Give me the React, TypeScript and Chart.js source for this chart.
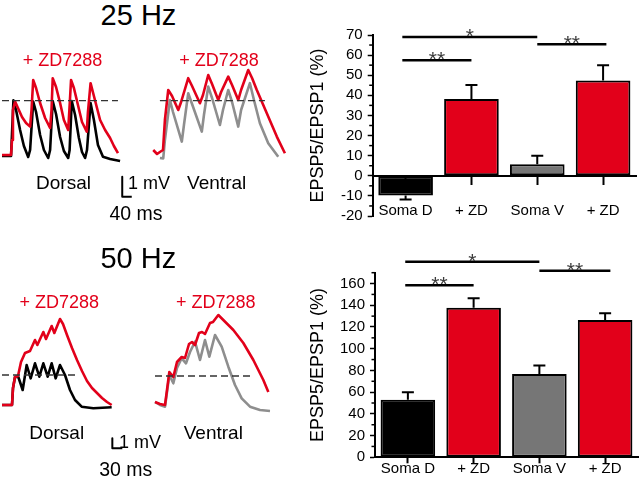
import React, { useEffect, useRef } from "react";
import { Chart, registerables } from "chart.js";

Chart.register(...registerables);

const FONT = "'Liberation Sans', Arial, Helvetica, sans-serif";
const RED = "#e2001a";
const GRAY_BAR = "#767676";
const GRAY_TRACE = "#8e8e8e";

// ---------- Bar chart data ----------
const barCategories = ["Soma D", "+ ZD", "Soma V", "+ ZD"];
const barColors = ["#000000", RED, GRAY_BAR, RED];

const ratio25Hz = [-9.8, 38.2, 5.7, 47.4];
const sem25Hz = [2.0, 7.0, 4.3, 7.6];
const yRange25Hz = [-20, 70];
const yStep25Hz = 10;
const yMinor25Hz = 5;

const ratio50Hz = [53.0, 137.8, 76.8, 126.4];
const sem50Hz = [7.0, 8.6, 7.7, 6.2];
const yRange50Hz = [0, 170];
const yStep50Hz = 20;
const yMinor50Hz = 10;

// significance brackets: from/to category index, level in axis units, label
const sigFrom25Hz = [-0.05, -0.05, 2];
const sigTo25Hz = [2, 1, 3.05];
const sigLevel25Hz = [69, 57.4, 65.4];
const sigText25Hz = ["*", "**", "**"];

const sigFrom50Hz = [-0.04, -0.04, 2];
const sigTo50Hz = [2, 1, 3.08];
const sigLevel50Hz = [180, 158.5, 171.7];
const sigText50Hz = ["*", "**", "**"];

// ---------- Trace data: [time ms, membrane potential mV] ----------
const dorsal25Control: [number, number][] = [
  [0, 0], [38, 0], [48, 2.78], [59, 2.3], [76, 1.3], [92, 0.5], [110, -0.05],
  [118, 0.3], [131, 2.72], [143, 2.2], [160, 1.05], [176, 0.3], [194, -0.1],
  [202, 0.3], [213, 2.75], [227, 2.1], [244, 0.95], [260, 0.25], [278, -0.1],
  [284, 0.3], [293, 2.75], [307, 2.05], [323, 0.9], [336, 0.2], [349, -0.1],
  [357, 0.3], [372, 2.65], [386, 1.8], [403, 0.55], [424, -0.04], [454, -0.15],
  [475, -0.2], [496, -0.25],
];
const dorsal25ZD: [number, number][] = [
  [0, 0.05], [38, 0.05], [42, 0.8], [46, 2.3], [55, 2.72], [67, 2.4], [84, 1.95],
  [101, 1.65], [118, 1.47], [124, 2.3], [131, 3.8], [143, 3.4], [160, 2.65],
  [181, 1.9], [202, 1.4], [208, 2.3], [213, 3.89], [227, 3.45], [244, 2.65],
  [260, 1.8], [278, 1.3], [283, 2.3], [290, 3.8], [302, 3.4], [319, 2.55],
  [336, 1.7], [356, 1.22], [361, 2.2], [372, 3.64], [386, 3.0], [412, 1.8],
  [433, 1.3], [454, 0.9], [470, 0.5], [487, 0.14],
];
const ventral25ZD: [number, number][] = [
  [1, 0.3], [17, 0.1], [29, 0.2], [42, 0.3], [50, 1.8], [64, 3.3], [80, 3.0],
  [106, 2.3], [118, 2.7], [148, 3.89], [164, 3.5], [197, 2.64], [210, 3.05],
  [232, 4.05], [248, 3.6], [274, 2.8], [286, 3.2], [316, 3.97], [332, 3.55],
  [358, 2.8], [370, 3.3], [400, 4.3], [416, 3.9], [436, 3.3], [478, 2.14],
  [520, 0.97], [554, 0.14],
];
const ventral25Control: [number, number][] = [
  [29, -0.1], [43, -0.12], [50, 0.8], [71, 2.8], [84, 2.2], [121, 0.72],
  [130, 1.55], [148, 3.14], [164, 2.6], [205, 1.22], [214, 2.05], [232, 3.47],
  [248, 2.9], [281, 1.55], [294, 2.3], [316, 3.3], [332, 2.7], [358, 1.47],
  [370, 2.3], [407, 3.64], [424, 2.8], [449, 1.64], [484, 0.64], [526, -0.04],
];
const dorsal25Ref: [number, number][] = [[0, 2.77], [487, 2.77]];
const ventral25Ref: [number, number][] = [[29, 2.77], [470, 2.77]];

const dorsal50Control: [number, number][] = [
  [0, 0], [30, 0], [33, 1.7], [39, 2.8], [49, 2.8], [62, 1.5], [74, 4.0],
  [86, 2.67], [99, 4.17], [112, 2.83], [124, 4.17], [137, 2.83], [149, 4.17],
  [161, 2.67], [174, 4.0], [189, 3.0], [204, 1.5], [219, 0.5], [239, -0.17],
  [274, -0.33], [329, -0.23],
];
const dorsal50ZD: [number, number][] = [
  [0, 0], [30, 0], [33, 1.7], [39, 2.8], [48, 2.9], [57, 4.3], [69, 5.2],
  [84, 5.4], [99, 6.5], [106, 6.0], [124, 7.3], [132, 6.6], [149, 7.9],
  [157, 7.2], [174, 8.6], [183, 8.1], [195, 7.0], [210, 5.7], [225, 4.5],
  [240, 3.4], [255, 2.4], [270, 1.7], [285, 1.2], [300, 0.7], [315, 0.3],
  [329, 0],
];
const ventral50ZD: [number, number][] = [
  [0, 0.3], [15, 0.1], [30, 0], [36, 1.5], [43, 3.3], [55, 2.8], [66, 4.3],
  [80, 4.8], [90, 4.7], [102, 6.1], [111, 6.3], [120, 6.0], [132, 7.2],
  [141, 7.3], [150, 7.1], [165, 8.2], [174, 8.3], [190, 9.0], [205, 8.5],
  [235, 7.5], [265, 6.2], [295, 4.5], [325, 2.5], [340, 1.3],
];
const ventral50Control: [number, number][] = [
  [0, 0.3], [15, 0], [30, -0.17], [36, 1.3], [43, 3.0], [55, 2.17], [66, 3.7],
  [80, 4.67], [93, 4.17], [105, 5.3], [120, 6.33], [135, 4.5], [150, 6.5],
  [163, 4.83], [180, 7.0], [200, 5.83], [220, 3.83], [240, 2.0], [260, 0.67],
  [285, -0.17], [315, -0.5], [345, -0.6],
];
const dorsal50Ref: [number, number][] = [[0, 3.0], [219, 3.0]];
const ventral50Ref: [number, number][] = [[0, 2.9], [285, 2.9]];

// scale bars: corner (ms, mV) and lengths
const scaleBar25 = { t: 505, v: -2.04, ms: 40, mV: 1 };
const scaleBar50 = { t: 331, v: -4.33, ms: 30, mV: 1 };

// ---------- Bar chart ----------
const barExtras = {
  id: "barExtras",
  afterDraw(chart: any, _args: any, opts: any) {
    const ctx = chart.ctx;
    const xs = chart.scales.x;
    const ys = chart.scales.y;
    const meta = chart.getDatasetMeta(0);
    ctx.save();
    // minor ticks
    ctx.strokeStyle = "#000";
    ctx.lineWidth = 1.5;
    const axX = chart.chartArea.left;
    for (let v = opts.min; v <= opts.max + 1e-6; v += opts.minor) {
      if (Math.abs(v / opts.step - Math.round(v / opts.step)) < 1e-6) continue;
      const y = ys.getPixelForValue(v);
      ctx.beginPath();
      ctx.moveTo(axX - 3.5, y);
      ctx.lineTo(axX, y);
      ctx.stroke();
    }
    // error bars
    ctx.lineWidth = 2;
    opts.errors.forEach((e: number, i: number) => {
      const v = opts.values[i];
      const bar = meta.data[i];
      const sign = v < 0 ? -1 : 1;
      const yEnd = ys.getPixelForValue(v + sign * e);
      ctx.beginPath();
      ctx.moveTo(bar.x, bar.y);
      ctx.lineTo(bar.x, yEnd);
      ctx.moveTo(bar.x - 6, yEnd);
      ctx.lineTo(bar.x + 6, yEnd);
      ctx.stroke();
    });
    // significance brackets
    ctx.lineWidth = 2.5;
    ctx.font = `21px ${FONT}`;
    ctx.textAlign = "center";
    ctx.textBaseline = "alphabetic";
    opts.sigFrom.forEach((f: number, i: number) => {
      const x1 = xs.getPixelForValue(f);
      const x2 = xs.getPixelForValue(opts.sigTo[i]);
      const y = ys.getPixelForValue(opts.sigLevel[i]);
      ctx.strokeStyle = "#000";
      ctx.beginPath();
      ctx.moveTo(x1, y);
      ctx.lineTo(x2, y);
      ctx.stroke();
      ctx.fillStyle = "#3a3a3a";
      ctx.fillText(opts.sigText[i], (x1 + x2) / 2, y + 6);
    });
    ctx.restore();
  },
};

function BarChart(props: any) {
  const ref = useRef<HTMLCanvasElement>(null);
  useEffect(() => {
    const p = props;
    const chart = new Chart(ref.current!, {
      type: "bar",
      data: {
        labels: barCategories,
        datasets: [
          {
            data: p.values,
            backgroundColor: barColors,
            borderColor: "#000",
            borderWidth: 2,
            borderSkipped: false,
            barPercentage: 0.83,
            categoryPercentage: 1,
          },
        ],
      },
      options: {
        responsive: false,
        animation: false,
        layout: { padding: p.padding },
        plugins: {
          legend: { display: false },
          tooltip: { enabled: false },
          barExtras: {
            values: p.values,
            errors: p.errors,
            min: p.range[0],
            max: p.range[1],
            step: p.step,
            minor: p.minor,
            sigFrom: p.sigFrom,
            sigTo: p.sigTo,
            sigLevel: p.sigLevel,
            sigText: p.sigText,
          },
        } as any,
        scales: {
          x: {
            type: "category",
            position: p.xAtZero ? { y: 0 } : "bottom",
            offset: true,
            grid: {
              drawOnChartArea: false,
              offset: false,
              tickLength: p.xTickLength,
              tickColor: "#000",
              tickWidth: 2,
            },
            border: { display: true, color: "#000", width: 2 },
            ticks: {
              color: "#000",
              font: { family: FONT, size: 15 },
              padding: p.xLabelPad,
              maxRotation: 0,
              autoSkip: false,
            },
            afterFit: (s: any) => {
              if (!p.xAtZero) s.height = p.xHeight;
            },
          } as any,
          y: {
            min: p.range[0],
            max: p.range[1],
            grid: {
              drawOnChartArea: false,
              tickLength: 5,
              tickColor: "#000",
              tickWidth: 1.5,
            },
            border: { display: true, color: "#000", width: 2 },
            ticks: {
              stepSize: p.step,
              autoSkip: false,
              color: "#000",
              font: { family: FONT, size: 15 },
              padding: 5,
            },
            afterBuildTicks: (s: any) => {
              const list: { value: number }[] = [];
              for (let v = p.range[0]; v <= p.range[1] + 1e-6; v += p.step) list.push({ value: v });
              s.ticks = list;
            },
            title: {
              display: true,
              text: "EPSP5/EPSP1 (%)",
              color: "#000",
              font: { family: FONT, size: 18 },
              padding: { top: 7, bottom: 0 },
            },
            afterFit: (s: any) => {
              s.width = p.yWidth;
            },
          },
        },
      },
      plugins: [barExtras],
    });
    return () => chart.destroy();
  }, []);
  return (
    <canvas
      ref={ref}
      width={props.w}
      height={props.h}
      style={{ position: "absolute", left: props.left, top: props.top, width: props.w, height: props.h }}
    />
  );
}

// ---------- Trace chart ----------
type Trace = { data: [number, number][]; color: string; width: number; dash?: number[] };

function TraceChart(props: {
  left: number; top: number; w: number; h: number;
  xr: [number, number]; yr: [number, number]; traces: Trace[];
}) {
  const ref = useRef<HTMLCanvasElement>(null);
  useEffect(() => {
    const chart = new Chart(ref.current!, {
      type: "line",
      data: {
        datasets: props.traces.map((t) => ({
          data: t.data.map(([x, y]) => ({ x, y })),
          borderColor: t.color,
          borderWidth: t.width,
          borderDash: t.dash || [],
          pointRadius: 0,
          tension: 0,
          fill: false,
          borderJoinStyle: "round" as const,
          borderCapStyle: "butt" as const,
          clip: false as any,
        })),
      },
      options: {
        responsive: false,
        animation: false,
        layout: { padding: 0 },
        plugins: { legend: { display: false }, tooltip: { enabled: false } },
        scales: {
          x: { type: "linear", min: props.xr[0], max: props.xr[1], display: false },
          y: { type: "linear", min: props.yr[0], max: props.yr[1], display: false },
        },
      },
    });
    return () => chart.destroy();
  }, []);
  return (
    <canvas
      ref={ref}
      width={props.w}
      height={props.h}
      style={{ position: "absolute", left: props.left, top: props.top, width: props.w, height: props.h }}
    />
  );
}

function scaleBarData(s: { t: number; v: number; ms: number; mV: number }): [number, number][] {
  return [[s.t, s.v + s.mV], [s.t, s.v], [s.t + s.ms, s.v]];
}

function Label(props: { x: number; y: number; size: number; color?: string; children: React.ReactNode }) {
  return (
    <div
      style={{
        position: "absolute",
        left: props.x,
        top: props.y,
        transform: "translate(-50%, -50%)",
        fontFamily: FONT,
        fontSize: props.size,
        lineHeight: 1,
        whiteSpace: "nowrap",
        color: props.color || "#000",
      }}
    >
      {props.children}
    </div>
  );
}

export default function App() {
  const dash = [7, 4];
  return (
    <div style={{ position: "absolute", left: 0, top: 0, width: 640, height: 482, background: "#fff", overflow: "hidden" }}>
      {/* 25 Hz traces */}
      <TraceChart
        left={0} top={60} w={140} h={150} xr={[-8.4, 579.6]} yr={[-2.7, 4.8]}
        traces={[
          { data: dorsal25Ref, color: "#333", width: 1.3, dash },
          { data: dorsal25ZD, color: RED, width: 2.6 },
          { data: dorsal25Control, color: "#000", width: 2.6 },
          { data: scaleBarData(scaleBar25), color: "#000", width: 2 },
        ]}
      />
      <TraceChart
        left={150} top={60} w={140} h={150} xr={[-12.6, 575.4]} yr={[-2.7, 4.8]}
        traces={[
          { data: ventral25Ref, color: "#333", width: 1.3, dash },
          { data: ventral25ZD, color: RED, width: 2.6 },
          { data: ventral25Control, color: GRAY_TRACE, width: 2.6 },
        ]}
      />
      {/* 50 Hz traces */}
      <TraceChart
        left={0} top={300} w={140} h={155} xr={[-6, 414]} yr={[-5, 10.5]}
        traces={[
          { data: dorsal50Ref, color: "#333", width: 1.3, dash },
          { data: dorsal50ZD, color: RED, width: 2.6 },
          { data: dorsal50Control, color: "#000", width: 2.6 },
          { data: scaleBarData(scaleBar50), color: "#000", width: 2 },
        ]}
      />
      <TraceChart
        left={150} top={300} w={140} h={155} xr={[-15, 405]} yr={[-5, 10.5]}
        traces={[
          { data: ventral50Ref, color: "#333", width: 1.3, dash },
          { data: ventral50ZD, color: RED, width: 2.6 },
          { data: ventral50Control, color: GRAY_TRACE, width: 2.6 },
        ]}
      />

      <Label x={138.5} y={14.5} size={29}>25 Hz</Label>
      <Label x={62.5} y={60} size={18} color={RED}>+ ZD7288</Label>
      <Label x={219} y={60} size={18} color={RED}>+ ZD7288</Label>
      <Label x={63.5} y={181.5} size={19}>Dorsal</Label>
      <Label x={216.7} y={181.5} size={19}>Ventral</Label>
      <Label x={149} y={182.5} size={18}>1 mV</Label>
      <Label x={136} y={213.5} size={19.5}>40 ms</Label>

      <Label x={138.3} y={258.3} size={29}>50 Hz</Label>
      <Label x={59.2} y={301.7} size={18} color={RED}>+ ZD7288</Label>
      <Label x={215.8} y={301.7} size={18} color={RED}>+ ZD7288</Label>
      <Label x={56.7} y={431.7} size={19}>Dorsal</Label>
      <Label x={213.3} y={431.7} size={19}>Ventral</Label>
      <Label x={140} y={442} size={18}>1 mV</Label>
      <Label x={125.8} y={469.5} size={19.5}>30 ms</Label>

      <BarChart
        left={300} top={0} w={340} h={230}
        values={ratio25Hz} errors={sem25Hz}
        range={yRange25Hz} step={yStep25Hz} minor={yMinor25Hz}
        sigFrom={sigFrom25Hz} sigTo={sigTo25Hz} sigLevel={sigLevel25Hz} sigText={sigText25Hz}
        padding={{ top: 35, bottom: 10.7, left: 0, right: 4 }}
        yWidth={72.7} xAtZero={true} xTickLength={8} xLabelPad={18} xHeight={0}
      />
      <BarChart
        left={300} top={230} w={340} h={252}
        values={ratio50Hz} errors={sem50Hz}
        range={yRange50Hz} step={yStep50Hz} minor={yMinor50Hz}
        sigFrom={sigFrom50Hz} sigTo={sigTo50Hz} sigLevel={sigLevel50Hz} sigText={sigText50Hz}
        padding={{ top: 42.7, bottom: 0, left: 0, right: 2 }}
        yWidth={75} xAtZero={false} xTickLength={6} xLabelPad={-3} xHeight={24.7}
      />
    </div>
  );
}
